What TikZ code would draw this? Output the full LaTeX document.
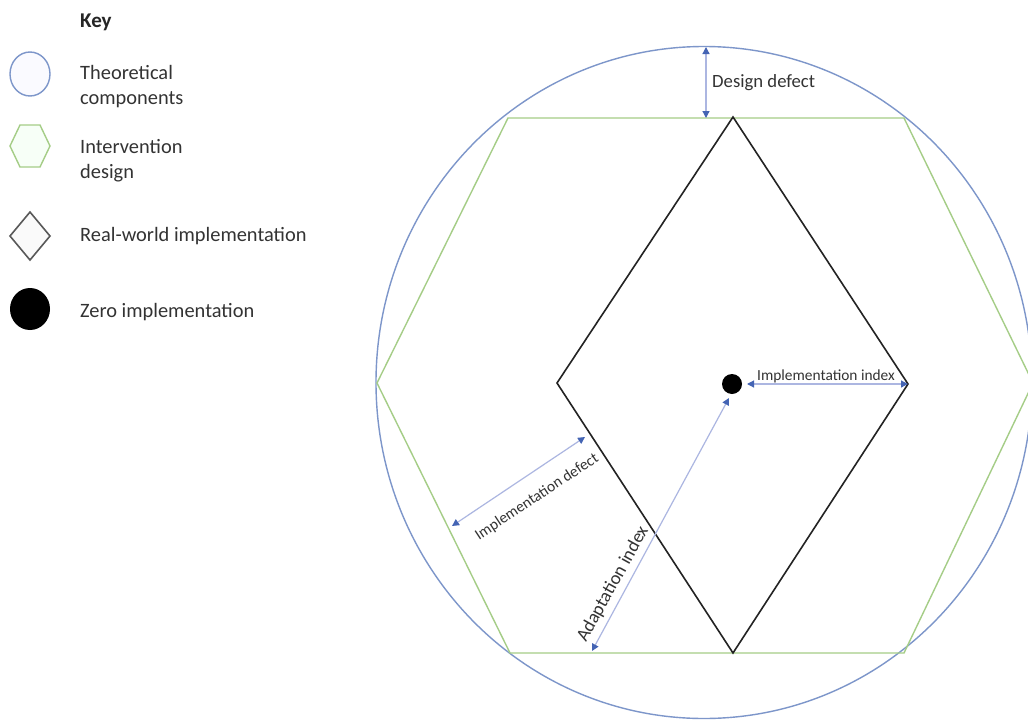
\documentclass[tikz,border=0pt]{standalone}
\usepackage{fontspec}
\setmainfont{Carlito}
\usetikzlibrary{arrows.meta}
\definecolor{circleblue}{RGB}{125,150,202}
\definecolor{hexgreen}{RGB}{165,205,135}
\definecolor{arrowline}{RGB}{172,182,225}
\definecolor{tipblue}{RGB}{68,100,180}
\definecolor{diagray}{RGB}{35,35,35}
\tikzset{
  theocircle/.style={draw=circleblue, line width=1.4pt},
  hexline/.style={draw=hexgreen, line width=1.4pt},
  diamline/.style={draw=diagray, line width=1.6pt},
  dimarrow/.style={draw=arrowline, line width=1.2pt,
    arrows={Triangle[length=7pt,width=7pt,color=tipblue]-Triangle[length=7pt,width=7pt,color=tipblue]}},
  keytext/.style={anchor=west, inner sep=0pt, align=left, font=\fontsize{20.4}{25}\selectfont, text=black!80},
  dimtext/.style={inner sep=0pt, text=black!80},
}
\begin{document}
\begin{tikzpicture}[x=1pt,y=-1pt]
\useasboundingbox (0,0) rectangle (1028,720);
\fill[white] (0,0) rectangle (1028,720);

% ---------- Key ----------
\node[anchor=west, inner sep=0pt, font=\fontsize{21}{25}\selectfont\bfseries, text=black!85] (keytitle) at (80,22) {Key};

\draw[theocircle, fill=blue!2] (30,74) ellipse [x radius=20, y radius=22];
\node[keytext] (ktheo) at (80,86.5) {Theoretical\\components};

\draw[hexline, fill=green!3] (10,146) -- (20,125) -- (40,125) -- (50,146) -- (40,167) -- (20,167) -- cycle;
\node[keytext] (kint) at (80,160.5) {Intervention\\design};

\draw[draw=black!65, line width=1.6pt, fill=black!2] (30,212) -- (50,236) -- (30,260) -- (10,236) -- cycle;
\node[keytext] (kreal) at (80,236) {Real-world implementation};

\fill[black] (30,309) ellipse [x radius=20, y radius=21];
\node[keytext] (kzero) at (80,312) {Zero implementation};

% ---------- Main figure ----------
\coordinate (cc) at (704,382.5);
\draw[theocircle] (cc) ellipse [x radius=328, y radius=336];

\coordinate (hL) at (377,383);
\coordinate (hTL) at (508,118);
\coordinate (hTR) at (904,118);
\coordinate (hR) at (1033,383);
\coordinate (hBR) at (904,653);
\coordinate (hBL) at (510,653);
\draw[hexline] (hL) -- (hTL) -- (hTR) -- (hR) -- (hBR) -- (hBL) -- cycle;

\coordinate (dT) at (733,117);
\coordinate (dR) at (908,384);
\coordinate (dB) at (733,653);
\coordinate (dL) at (557,383);
\draw[diamline, line join=miter] (dT) -- (dR) -- (dB) -- (dL) -- cycle;

\node[circle, fill=black, minimum size=20pt, inner sep=0pt] (dot) at (732,384) {};

% Design defect
\coordinate (ddtop) at (706,47);
\coordinate (ddbot) at (706,118);
\draw[dimarrow] (ddtop) -- (ddbot);
\node[dimtext, anchor=west, font=\fontsize{18.7}{22}\selectfont] (ddlab) at (712,83) {Design defect};

% Implementation index
\coordinate (iiL) at (747,384);
\draw[dimarrow] (iiL) -- (dR);
\node[dimtext, anchor=base, font=\fontsize{15.4}{18}\selectfont] (iilab) at (826,380) {Implementation index};

% Implementation defect
\coordinate (idU) at (585,437);
\coordinate (idD) at (452,526);
\draw[dimarrow] (idU) -- (idD);
\node[dimtext, rotate=33.5, font=\fontsize{15.5}{18}\selectfont] (idlab) at (537,497) {Implementation defect};

% Adaptation index
\coordinate (aiU) at (729,398);
\coordinate (aiD) at (592,651);
\draw[dimarrow] (aiU) -- (aiD);
\node[dimtext, rotate=61, font=\fontsize{18.6}{22}\selectfont] (ailab) at (613,584) {Adaptation index};
\end{tikzpicture}
\end{document}
